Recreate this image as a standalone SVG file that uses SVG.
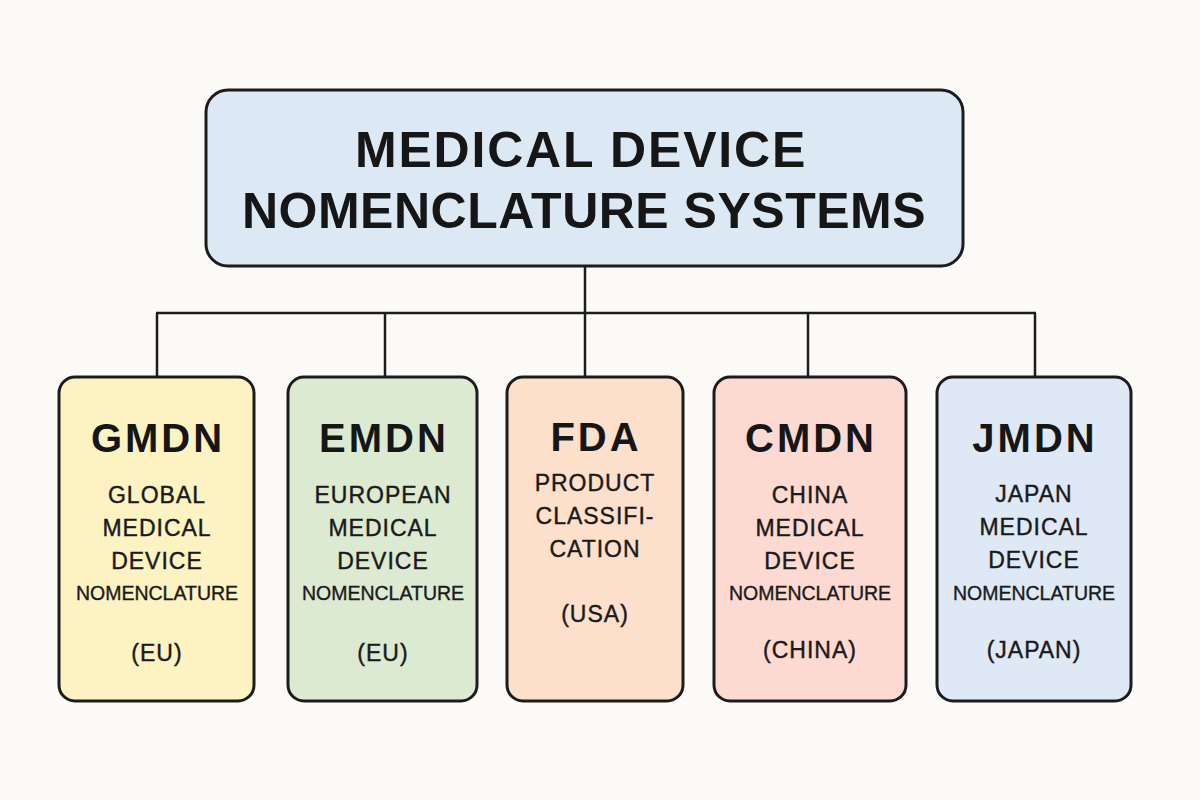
<svg xmlns="http://www.w3.org/2000/svg" width="1200" height="800" viewBox="0 0 1200 800">
  <style>
    .box { stroke: #1c1c1c; stroke-width: 3; }
    .title { font-family: "Liberation Sans", Arial, sans-serif; font-weight: bold; font-size: 50px; fill: #161616; text-anchor: middle; letter-spacing: 0.5px; }
    .t1 { letter-spacing: 1.8px; }
    .head { font-family: "Liberation Sans", Arial, sans-serif; font-weight: bold; font-size: 40px; fill: #161616; text-anchor: middle; letter-spacing: 3px; }
    .sub { font-family: "Liberation Sans", Arial, sans-serif; font-size: 23px; fill: #1a1a1a; stroke: #1a1a1a; stroke-width: 0.4; text-anchor: middle; letter-spacing: 1px; }
    .nom { font-family: "Liberation Sans", Arial, sans-serif; font-size: 19.5px; fill: #1a1a1a; stroke: #1a1a1a; stroke-width: 0.35; text-anchor: middle; }
    .conn { stroke: #1c1c1c; stroke-width: 2.5; fill: none; }
  </style>
  <rect width="1200" height="800" fill="#fbfaf6"/>

  <g id="connectors">
    <line class="conn" x1="585" y1="266" x2="585" y2="313"/>
    <line class="conn" x1="156" y1="313" x2="1036" y2="313"/>
    <line class="conn" x1="157" y1="313" x2="157" y2="378"/>
    <line class="conn" x1="385" y1="313" x2="385" y2="378"/>
    <line class="conn" x1="585" y1="313" x2="585" y2="378"/>
    <line class="conn" x1="808" y1="313" x2="808" y2="378"/>
    <line class="conn" x1="1035" y1="313" x2="1035" y2="378"/>
  </g>

  <g id="root">
    <rect class="box" x="206" y="90" width="757" height="176" rx="22" fill="#dde8f5"/>
    <text class="title t1" x="581" y="167">MEDICAL DEVICE</text>
    <text class="title" x="584" y="228">NOMENCLATURE SYSTEMS</text>
  </g>

  <g id="gmdn">
    <rect class="box" x="59" y="377" width="195" height="324" rx="16" fill="#fdf2c2"/>
    <text class="head" x="158" y="452">GMDN</text>
    <text class="sub" x="157" y="503">GLOBAL</text>
    <text class="sub" x="157" y="536">MEDICAL</text>
    <text class="sub" x="157" y="569">DEVICE</text>
    <text class="nom" x="157" y="600">NOMENCLATURE</text>
    <text class="sub" x="157" y="661">(EU)</text>
  </g>

  <g id="emdn">
    <rect class="box" x="288" y="377" width="189" height="324" rx="16" fill="#dcead2"/>
    <text class="head" x="384" y="452">EMDN</text>
    <text class="sub" x="383" y="503">EUROPEAN</text>
    <text class="sub" x="383" y="536">MEDICAL</text>
    <text class="sub" x="383" y="569">DEVICE</text>
    <text class="nom" x="383" y="600">NOMENCLATURE</text>
    <text class="sub" x="383" y="661">(EU)</text>
  </g>

  <g id="fda">
    <rect class="box" x="507" y="377" width="176" height="324" rx="16" fill="#fde0cb"/>
    <text class="head" x="596" y="451">FDA</text>
    <text class="sub" x="595" y="491">PRODUCT</text>
    <text class="sub" x="595" y="524">CLASSIFI-</text>
    <text class="sub" x="595" y="557">CATION</text>
    <text class="sub" x="595" y="622">(USA)</text>
  </g>

  <g id="cmdn">
    <rect class="box" x="714" y="377" width="192" height="324" rx="16" fill="#fcdad2"/>
    <text class="head" x="811" y="452">CMDN</text>
    <text class="sub" x="810" y="503">CHINA</text>
    <text class="sub" x="810" y="536">MEDICAL</text>
    <text class="sub" x="810" y="569">DEVICE</text>
    <text class="nom" x="810" y="600">NOMENCLATURE</text>
    <text class="sub" x="810" y="658">(CHINA)</text>
  </g>

  <g id="jmdn">
    <rect class="box" x="937" y="377" width="194" height="324" rx="16" fill="#dfe8f5"/>
    <text class="head" x="1035" y="452">JMDN</text>
    <text class="sub" x="1034" y="502">JAPAN</text>
    <text class="sub" x="1034" y="535">MEDICAL</text>
    <text class="sub" x="1034" y="568">DEVICE</text>
    <text class="nom" x="1034" y="600">NOMENCLATURE</text>
    <text class="sub" x="1034" y="658">(JAPAN)</text>
  </g>
</svg>
